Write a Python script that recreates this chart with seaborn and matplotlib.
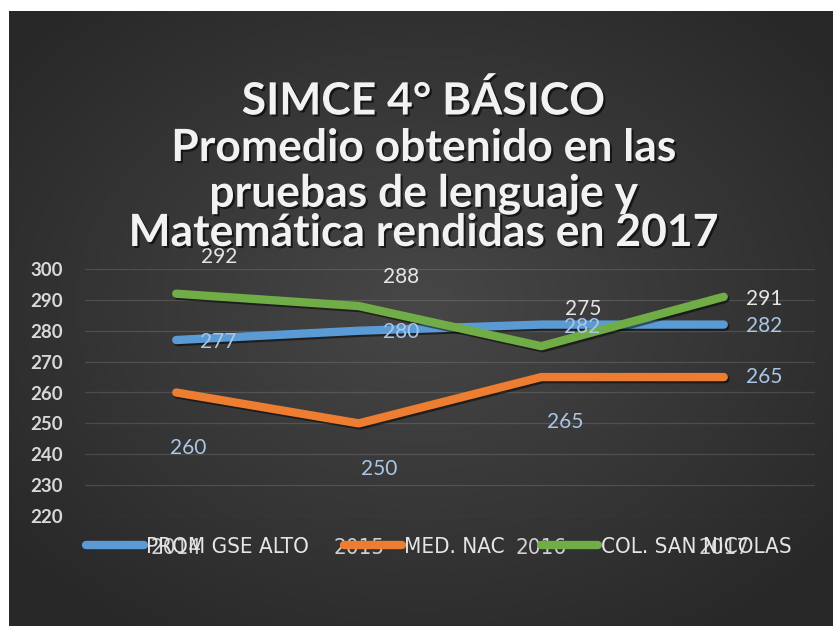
import numpy as np
import pandas as pd
import matplotlib
matplotlib.use("Agg")
import matplotlib.pyplot as plt
import matplotlib.patheffects as pe
from matplotlib import font_manager as fm
from matplotlib.lines import Line2D
import seaborn as sns

# ---- data ----
years = ["2014", "2015", "2016", "2017"]
series_names = ["PROM GSE ALTO", "MED. NAC", "COL. SAN NICOLAS"]
prom_gse_alto = [277, 280, 282, 282]
med_nac = [260, 250, 265, 265]
col_san_nicolas = [292, 288, 275, 291]
y_ticks = [220, 230, 240, 250, 260, 270, 280, 290, 300]
title_lines = ["SIMCE 4° BÁSICO", "Promedio obtenido en las",
               "pruebas de lenguaje y", "Matemática rendidas en 2017"]

# ---- styles ----
colors = ["#5B9BD5", "#ED7D31", "#70AD47"]
label_colors = ["#a9c6e6", "#a9c6e6", "#e6e6e6"]
# label offsets in pixels (dx, dy with y down) relative to each point
label_offsets = [
    [(42, 2), (42, 1), (41, 2), (40, 1)],
    [(12, 56), (20, 46), (24, 45), (40, 0)],
    [(43, -37), (42, -29), (42, -37), (40, 2)],
]

sns.set_theme(style="dark")

# find an upright sans narrow / condensed font file if present
cands = []
for f in fm.fontManager.ttflist:
    nm = f.name.lower()
    fn = f.fname.lower()
    is_narrow = ("narrow" in nm or "condensed" in nm or "narrow" in fn or "condensed" in fn
                 or str(f.stretch).lower() in ("condensed", "semi-condensed"))
    upright = f.style == "normal" and "oblique" not in fn and "italic" not in fn
    regular = f.weight in (400, "normal", "regular", "book") and "bold" not in fn
    sans = "serif" not in nm.replace("sans", "") and "serif" not in fn.replace("sans", "")
    if is_narrow and upright and regular and sans and "mono" not in nm:
        cands.append(f)
cands.sort(key=lambda f: (0 if "liberation" in f.name.lower() else 1, f.fname))
avail = {f.name for f in fm.fontManager.ttflist}
main_font = "Lato" if "Lato" in avail else "DejaVu Sans"
if cands:
    narrow_fp = fm.FontProperties(fname=cands[0].fname)
    leg_size = 17 if "liberation" in cands[0].name.lower() else 16
else:
    narrow_fp = fm.FontProperties(family="Roboto" if "Roboto" in avail else "DejaVu Sans")
    leg_size = 15
plt.rcParams["font.family"] = [main_font, "DejaVu Sans"]

W, H = 833, 626
fig = plt.figure(figsize=(W / 100, H / 100), dpi=100, facecolor="white")

# background panel with radial gradient
bg = fig.add_axes([9 / W, 0, 1 - 9 / W, 1 - 11 / H])
bg.set_axis_off()
gx, gy = np.meshgrid(np.linspace(-1, 1, 400), np.linspace(-1, 1, 300))
r = np.sqrt(gx ** 2 + (gy + 0.05) ** 2)
r = np.clip(r / 1.3, 0, 1)
c0, c1 = np.array([0x47, 0x47, 0x47]) / 255, np.array([0x28, 0x28, 0x28]) / 255
img = c0[None, None, :] * (1 - r[..., None]) + c1[None, None, :] * r[..., None]
bg.imshow(img, aspect="auto", extent=[0, 1, 0, 1])
bg.set_xlim(0, 1)
bg.set_ylim(0, 1)

# main axes
top_px, bot_px, left_px, right_px = 269, 516, 85, 815
ax = fig.add_axes([left_px / W, 1 - bot_px / H, (right_px - left_px) / W, (bot_px - top_px) / H])
ax.set_facecolor("none")

df = pd.DataFrame({
    "year": years * 3,
    "value": prom_gse_alto + med_nac + col_san_nicolas,
    "series": sum([[s] * len(years) for s in series_names], []),
})
sns.lineplot(data=df, x="year", y="value", hue="series", hue_order=series_names,
             palette=colors, linewidth=6, ax=ax, legend=False, sort=False)
for ln in ax.lines:
    ln.set_solid_capstyle("round")
    ln.set_solid_joinstyle("round")
    ln.set_clip_on(False)
    ln.set_path_effects([pe.SimpleLineShadow(offset=(1.2, -1.5), alpha=0.5, shadow_color="black"),
                         pe.Normal()])

ax.set_xlim(-0.5, 3.5)
ax.set_ylim(220, 300)
ax.set_yticks(y_ticks)
ax.grid(axis="y", color="white", alpha=0.13, linewidth=0.9)
ax.grid(axis="x", visible=False)
for s in ax.spines.values():
    s.set_visible(False)
ax.set_xlabel("")
ax.set_ylabel("")
ax.tick_params(axis="y", length=0, pad=16, labelsize=13.5, labelcolor="#d9d9d9")
for t in ax.get_yticklabels():
    t.set_fontweight("bold")
ax.tick_params(axis="x", length=0, pad=16, labelcolor="#d0d0d0")
for t in ax.get_xticklabels():
    t.set_fontproperties(narrow_fp)
    t.set_fontsize(leg_size)

# data labels
series_vals = [prom_gse_alto, med_nac, col_san_nicolas]
for si, vals in enumerate(series_vals):
    for xi, v in enumerate(vals):
        dx, dy = label_offsets[si][xi]
        ax.annotate(f"{v}", xy=(xi, v), xytext=(dx * 0.72, -dy * 0.72), textcoords="offset points",
                    ha="center", va="center", fontsize=15, color=label_colors[si],
                    annotation_clip=False)

# title
title_y = [101, 148, 194, 233]
for ty, line in zip(title_y, title_lines):
    fig.text(424 / W, 1 - ty / H, line, ha="center", va="center", fontsize=32,
             fontweight="bold", color="#f2f2f2",
             path_effects=[pe.withSimplePatchShadow(offset=(1.5, -1.5), alpha=0.6, shadow_rgbFace="black")])

# legend
lp = narrow_fp.copy()
lp.set_size(leg_size)
handles = [Line2D([0], [0], color=c, linewidth=6, solid_capstyle="round") for c in colors]
leg = fig.legend(handles, series_names, loc="center left",
                 bbox_to_anchor=(86 / W, 1 - 547 / H), bbox_transform=fig.transFigure,
                 ncol=3, frameon=False, handlelength=2.6, handletextpad=0.1,
                 columnspacing=1.6, borderpad=0, borderaxespad=0, prop=lp)
for t in leg.get_texts():
    t.set_color("#e6e6e6")

fig.savefig("out.png", dpi=100, facecolor="white")
